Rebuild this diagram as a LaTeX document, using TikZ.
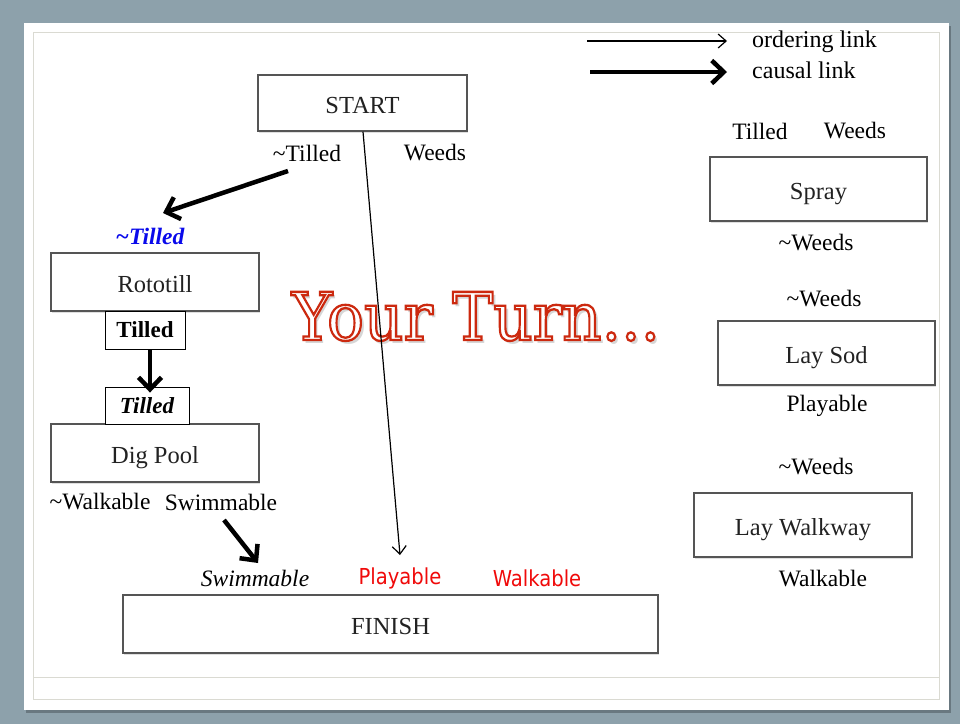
\documentclass[tikz,border=0pt]{standalone}
\usepackage{fontspec}
\setmainfont{Liberation Serif}
\newfontfamily\redsans{DejaVu Sans}
\newfontfamily\bigserif{DejaVu Serif}
\usetikzlibrary{arrows.meta,shadows}

\definecolor{framebg}{RGB}{141,161,171}
\definecolor{rulegray}{RGB}{218,218,210}
\definecolor{boxline}{RGB}{85,85,85}
\definecolor{boxtext}{RGB}{34,34,34}
\definecolor{goalred}{RGB}{240,10,10}
\definecolor{precblue}{RGB}{10,10,235}

% stroked glyphs: red outline, white fill
\newcommand\strokedtext[1]{\special{pdf:code q 2 Tr 2.3 w 0.80 0.16 0.06 RG 1 1 1 rg}#1\special{pdf:code Q}}

\tikzset{
  x=1pt, y=-1pt,
  stepbox/.style={draw=boxline, line width=1.4pt, fill=white, inner sep=0pt,
    text=boxtext, font=\fontsize{24.5}{28}\selectfont,
    text height=20pt, text depth=0pt,
    drop shadow={shadow xshift=1.2pt, shadow yshift=-1.5pt, opacity=0.25}},
  condbox/.style={draw=black, line width=0.9pt, fill=white, inner sep=0pt,
    font=\fontsize{23}{26}\selectfont},
  cond/.style={inner sep=0pt, font=\fontsize{23.5}{26}\selectfont},
  goal/.style={inner sep=0pt, text=goalred, font=\redsans\fontsize{22}{24}\selectfont},
  ordering/.style={line width=1.2pt, -{Straight Barb[length=8pt,width=14pt]}},
  causal/.style={line width=4.5pt, -{Straight Barb[length=12pt,width=23pt]}},
}

\begin{document}
\begin{tikzpicture}
  % frame and slide
  \fill[framebg] (0,0) rectangle (960,724);
  \fill[black, opacity=0.25] (26,26) rectangle (951,713);
  \fill[white] (24,23) rectangle (949,710);
  \draw[rulegray, line width=1pt] (33,32) rectangle (939,699);
  \draw[rulegray, line width=1pt] (33,677) -- (939,677);
  \useasboundingbox (0,0) rectangle (960,724);

  % legend
  \node[cond, anchor=west, font=\fontsize{24}{26}\selectfont] (lo) at (752,42) {ordering link};
  \node[cond, anchor=west, font=\fontsize{24}{26}\selectfont] (lc) at (752,70) {causal link};
  \coordinate (lo0) at (587,41);
  \coordinate (lc0) at (590,72);
  \draw[ordering] (lo0) -- ([shift={(-25,-1)}]lo.west);
  \draw[causal] (lc0) -- ([shift={(-25,2)}]lc.west);

  % heading text with its soft shadow
  \node[inner sep=0pt, anchor=base, text=black!16, font=\bigserif\fontsize{66}{66}\selectfont]
    (turnshadow) at (479,343) {\scalebox{0.93}[1]{Your Turn...}};
  \node[inner sep=0pt, anchor=base, font=\bigserif\fontsize{66}{66}\selectfont]
    (turn) at (476,340) {\scalebox{0.93}[1]{\strokedtext{Your Turn...}}};

  % start step and its effects
  \node[stepbox, minimum width=209pt, minimum height=56pt] (start) at (362.5,103) {START};
  \node[cond] (startnt) at (307,153) {\textasciitilde Tilled};
  \node[cond] (startw) at (435,153) {Weeds};

  % rototill and dig pool
  \node[inner sep=0pt, text=precblue, font=\bfseries\itshape\fontsize{23.5}{26}\selectfont]
    (rotopre) at (150,236) {\textasciitilde Tilled};
  \node[stepbox, minimum width=208pt, minimum height=58pt] (roto) at (155,282) {Rototill};
  \node[condbox, font=\bfseries\fontsize{23}{26}\selectfont,
    minimum width=80pt, minimum height=38pt] (rotoeff) at (145,330) {Tilled};
  \node[stepbox, minimum width=208pt, minimum height=58pt] (dig) at (155,453) {Dig Pool};
  \node[condbox, font=\bfseries\itshape\fontsize{23}{26}\selectfont,
    minimum width=84pt, minimum height=37pt] (digpre) at (147,405.5) {Tilled};
  \node[cond] (dignw) at (100,502) {\textasciitilde Walkable};
  \node[cond] (digsw) at (221,502) {Swimmable};

  % finish step and its preconditions
  \node[stepbox, minimum width=535pt, minimum height=58pt] (finish) at (390.5,624) {FINISH};
  \node[cond, font=\itshape\fontsize{23.5}{26}\selectfont] (finsw) at (255,578) {Swimmable};
  \node[goal] (finpl) at (400,578) {\scalebox{0.89}[1]{Playable}};
  \node[goal] (finwk) at (537,578) {\scalebox{0.89}[1]{Walkable}};
  \coordinate (ordend) at (400,555);

  % spray
  \node[cond] (sprt) at (760,131) {Tilled};
  \node[cond] (sprw) at (855,131) {Weeds};
  \node[stepbox, minimum width=217pt, minimum height=64pt] (spray) at (818.5,189) {Spray};
  \node[cond] (sprnw) at (816,243) {\textasciitilde Weeds};

  % lay sod
  \node[cond] (sodnw) at (824,299) {\textasciitilde Weeds};
  \node[stepbox, minimum width=217pt, minimum height=64pt] (sod) at (826.5,353) {Lay Sod};
  \node[cond] (sodpl) at (827,406) {Playable};

  % lay walkway
  \node[cond] (walknw) at (816,467) {\textasciitilde Weeds};
  \node[stepbox, minimum width=218pt, minimum height=64pt] (walk) at (803,525) {Lay Walkway};
  \node[cond] (walkwk) at (823,579) {Walkable};

  % links
  \draw[ordering] ([xshift=0.5pt]start.south) -- (ordend);
  \draw[causal] ([shift={(-19,18)}]startnt.center) -- ([shift={(13,-23)}]rotopre.center);
  \draw[causal] ([xshift=5pt]rotoeff.south) -- ([shift={(3,6)}]digpre.north);
  \draw[causal] ([shift={(3,18)}]digsw.center) -- ([shift={(3,-15)}]finsw.center);
\end{tikzpicture}
\end{document}
